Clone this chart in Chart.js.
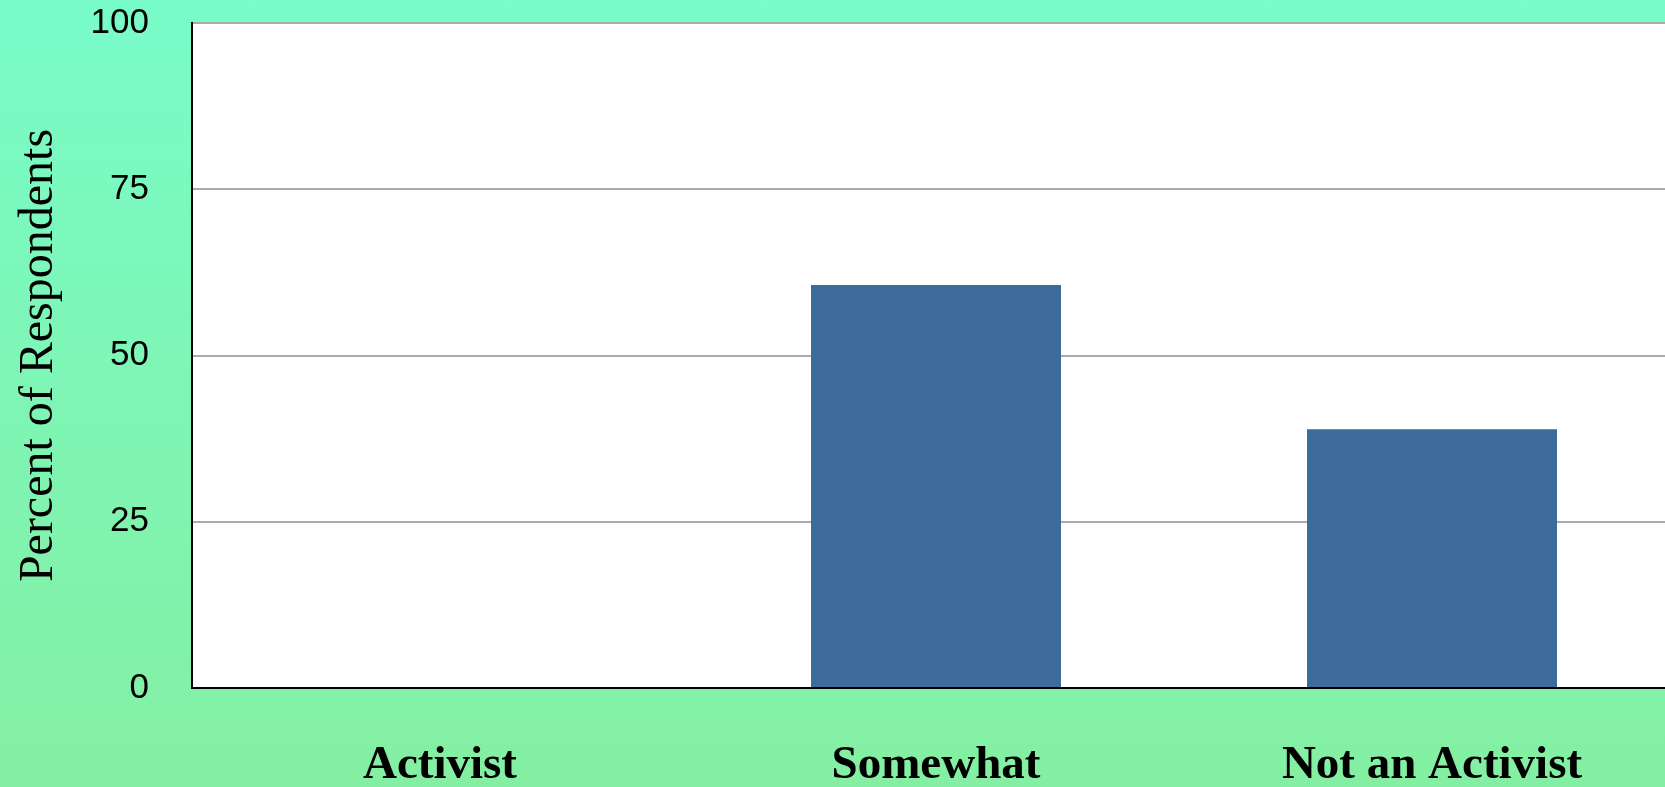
<!DOCTYPE html>
<html>
<head>
<meta charset="utf-8">
<script src="https://cdn.jsdelivr.net/npm/chart.js@4/dist/chart.umd.min.js"></script>
<style>
  html, body {
    margin: 0;
    padding: 0;
    width: 1665px;
    height: 787px;
    overflow: hidden;
    background: linear-gradient(to bottom, #78fcc8 0%, #84efa2 100%);
  }
  canvas { display: block; }
</style>
</head>
<body>
<canvas id="myChart" width="1680" height="787"></canvas>
<script>
const categories = ["Activist", "Somewhat", "Not an Activist"];
const percentValues = [0, 60.6, 38.9];
const yTicks = [0, 25, 50, 75, 100];

// paint the plot area white before the grid goes on
const whitePlot = {
  id: "whitePlot",
  beforeDraw(chart) {
    const { ctx, chartArea } = chart;
    ctx.save();
    ctx.fillStyle = "#ffffff";
    ctx.fillRect(chartArea.left, chartArea.top, chartArea.right - chartArea.left, chartArea.bottom - chartArea.top);
    ctx.restore();
  }
};

new Chart("myChart", {
  type: "bar",
  data: {
    labels: categories,
    datasets: [{
      data: percentValues,
      backgroundColor: "#3d6c9c",
      borderWidth: 0,
      categoryPercentage: 1,
      barPercentage: 0.504
    }]
  },
  plugins: [whitePlot],
  options: {
    responsive: false,
    animation: false,
    layout: { padding: { top: 23, right: 0, bottom: 0, left: 0 } },
    plugins: {
      legend: { display: false },
      tooltip: { enabled: false }
    },
    scales: {
      x: {
        grid: { display: false, drawTicks: false },
        border: { display: true, color: "#000000", width: 2 },
        ticks: {
          color: "#000000",
          padding: 50,
          font: { family: "'Liberation Serif', 'Times New Roman', serif", size: 47, weight: "bold" }
        },
        afterFit(scale) { scale.height = 99; }
      },
      y: {
        min: 0,
        max: 100,
        afterBuildTicks(scale) { scale.ticks = yTicks.map(v => ({ value: v })); },
        grid: { color: "#ababab", lineWidth: 2, drawTicks: false },
        border: { display: true, color: "#000000", width: 2 },
        ticks: {
          color: "#000000",
          padding: 43,
          font: { family: "'Liberation Sans', Arial, sans-serif", size: 35 }
        },
        title: {
          display: true,
          text: "Percent of Respondents",
          color: "#000000",
          padding: { top: 11, bottom: 0 },
          font: { family: "'Liberation Serif', 'Times New Roman', serif", size: 48 }
        },
        afterFit(scale) {
          scale.width = 192;
          scale.paddingTop = 0;
          scale.paddingBottom = 0;
        }
      }
    }
  }
});
</script>
</body>
</html>
